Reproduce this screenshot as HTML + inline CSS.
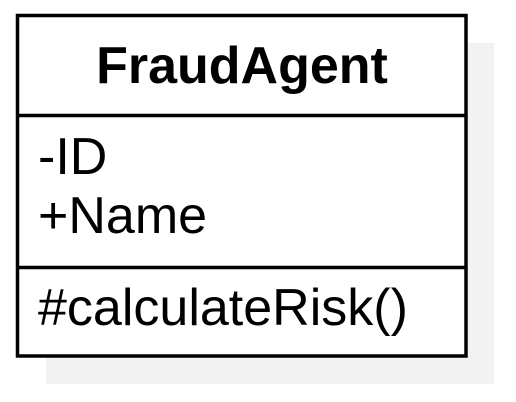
<!DOCTYPE html>
<html><head><meta charset="utf-8"><style>
html,body{margin:0;padding:0;background:#fff;width:516px;height:402px;overflow:hidden;position:relative;font-family:"Liberation Sans",sans-serif}
.abs{position:absolute}
</style></head><body>
<svg class="abs" style="left:0;top:0" width="516" height="402">
<rect x="46" y="43" width="448" height="341" fill="#f2f2f2"/>
<rect x="17.5" y="15.5" width="448.5" height="340.5" fill="#fff" stroke="#000" stroke-width="3.5"/>
<line x1="16" y1="115.5" x2="467" y2="115.5" stroke="#000" stroke-width="3.5"/>
<line x1="16" y1="267.5" x2="467" y2="267.5" stroke="#000" stroke-width="3.5"/>
<text x="242" y="83" text-anchor="middle" font-family="Liberation Sans, sans-serif" font-weight="bold" font-size="52">FraudAgent</text>
<text x="38" y="174" font-family="Liberation Sans, sans-serif" font-size="52">-ID</text>
<text x="38" y="233" font-family="Liberation Sans, sans-serif" font-size="52">+Name</text>
<text x="38" y="325" font-family="Liberation Sans, sans-serif" font-size="52">#calculateRisk()</text>
</svg>
</body></html>
